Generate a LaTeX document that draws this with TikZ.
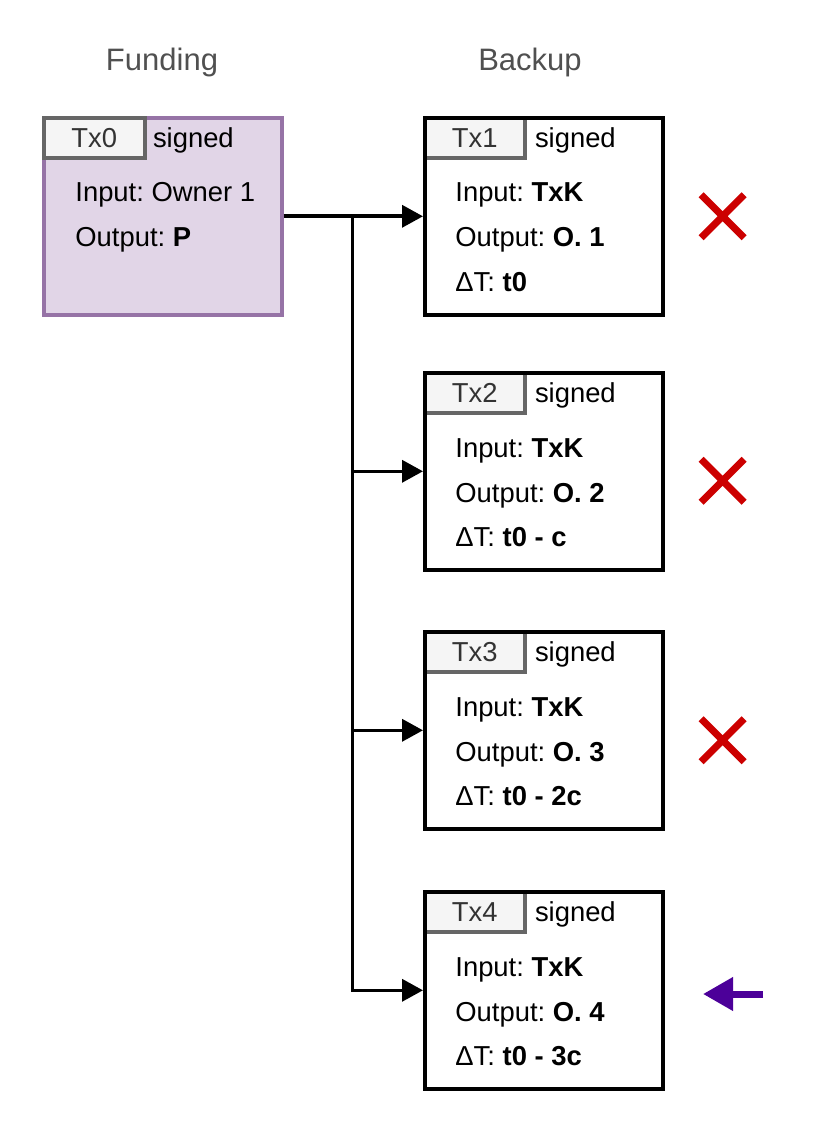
\documentclass[tikz,border=0pt]{standalone}
\usepackage{fontspec}
\setmainfont{Liberation Sans}
\usetikzlibrary{positioning}
\usetikzlibrary{arrows.meta, shapes.misc}

\definecolor{fundfill}{HTML}{E1D5E7}
\definecolor{funddraw}{HTML}{9673A6}
\definecolor{tabfill}{HTML}{F5F5F5}
\definecolor{tabdraw}{HTML}{666666}
\definecolor{tabtext}{HTML}{333333}
\definecolor{headtext}{HTML}{505050}
\definecolor{nored}{HTML}{CC0000}
\definecolor{pickpurple}{HTML}{4C0099}
\frenchspacing

\begin{document}
\begin{tikzpicture}[x=0.5pt,y=-0.5pt]

\tikzset{tx box/.style={
		draw, line width=1.8pt,
		minimum width=119pt, minimum height=98.5pt,
		anchor=north west, inner sep=0pt
	},
	tx tab/.style={
		draw=tabdraw, fill=tabfill, text=tabtext,
		line width=1.8pt, font=\fontsize{13.7}{16}\selectfont,
		minimum width=50pt, minimum height=20pt,
		anchor=north west, inner sep=0pt
	},
	line text/.style={
		font=\fontsize{13.7}{16}\selectfont,
		anchor=base west, inner sep=0pt
	},
	head text/.style={
		font=\fontsize{15.5}{18}\selectfont, text=headtext,
		anchor=base, inner sep=0pt
	},
	link/.style={
		line width=1.8pt,
		-{Triangle[length=10.5pt,width=11pt]}
	},
	no mark/.style={
		cross out, draw=nored, line width=3.5pt,
		minimum size=18pt, inner sep=0pt
	}
}
\useasboundingbox (0,0) rectangle (822,1134);

% column titles
\node[head text] (funding) at (162,71) {Funding};
\node[head text] (backup) at (530,71) {Backup};

% funding transaction
\node[tx box, draw=funddraw, fill=fundfill] (tx0) at (42,116) {};
\node[tx tab, minimum width=50.5pt] (tab0) at (42,116) {Tx0};
\node[line text, base right=3pt of tab0] (sign0) {signed};
\node[line text] (in0) at (75,202) {Input: Owner 1};
\node[line text] (out0) at (75,247) {Output: \textbf{P}};

% backup transactions
\foreach \i/\top/\dt in {1/116/t0, 2/371/t0 - c, 3/630/t0 - 2c, 4/890/t0 - 3c} {
	\node[tx tab] (tab\i) at (423,\top) {Tx\i};
	\node[tx box] (tx\i) at (423,\top) {};
	\node[line text, base right=4pt of tab\i] (sign\i) {signed};
	\node[line text] (in\i) at (455,\top+86) {Input: \textbf{TxK}};
	\node[line text] (out\i) at (455,\top+131) {Output: \textbf{O. \i}};
	\node[line text] (dt\i) at (455,\top+175) {ΔT: \textbf{\dt}};
}

% connectors
\path (tx0.east) ++(69,0) coordinate (split);
\draw[link] (tx0.east) -- (tx1.west);
\foreach \i in {2,3,4}
	\draw[link] (split) |- (tx\i.west);

% rejected ones
\foreach \i/\dy in {1/0, 2/9.5, 3/10}
	\node[no mark] (no\i) at ([xshift=29pt,yshift=-\dy*0.5pt]tx\i.east) {};

% the one that goes through
\coordinate (pickfrom) at (763,994);
\coordinate (pickto) at (703,994);
\draw[pickpurple, line width=3.5pt, -{Triangle[length=15pt,width=16pt]}] (pickfrom) -- (pickto);

\end{tikzpicture}
\end{document}
